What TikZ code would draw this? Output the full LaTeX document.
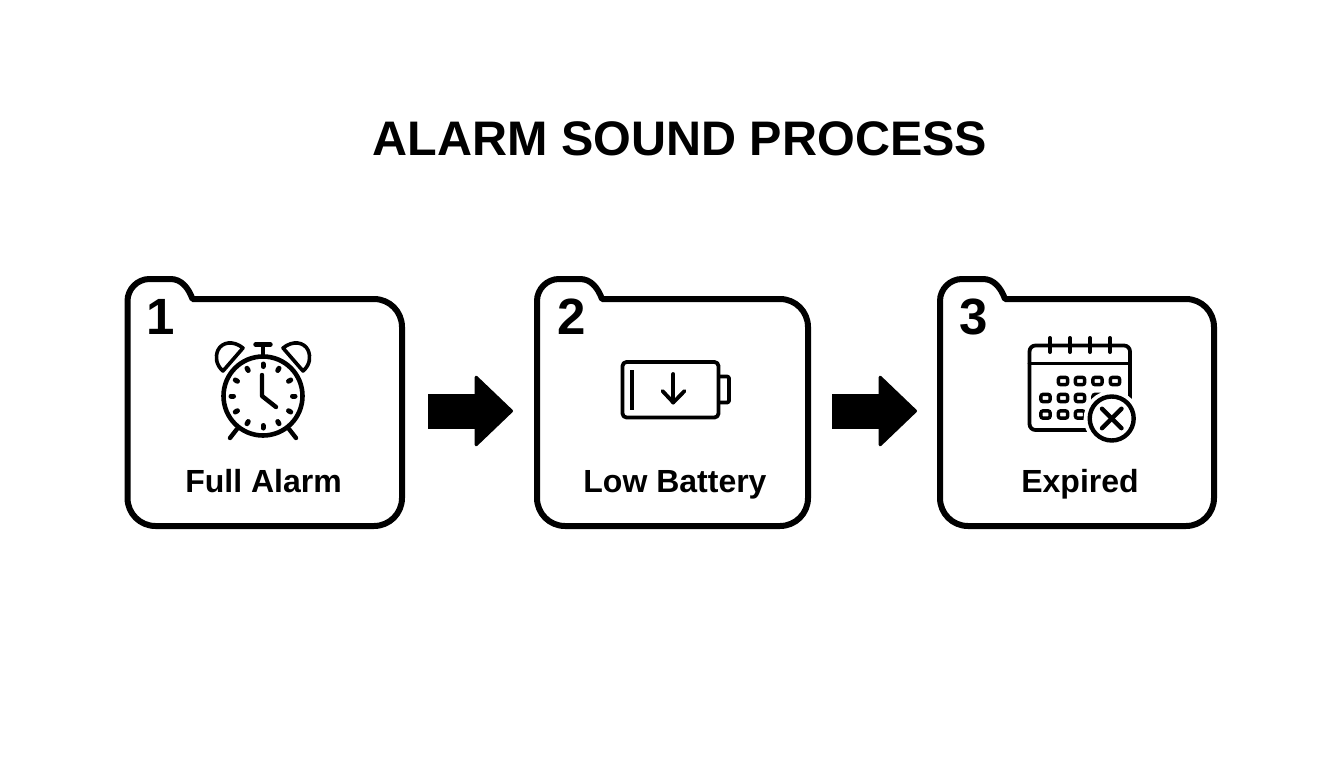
\documentclass[tikz,border=0pt]{standalone}
\usepackage{fontspec}
\setmainfont{Liberation Sans}
\usetikzlibrary{arrows.meta}
\newcommand{\cardoutline}[2]{%
  \draw[cardline] (#1,301) .. controls (#1,289) and ({#1+10},279) .. ({#1+22},279)
    -- ({#1+43},279) .. controls ({#1+54},279) and ({#1+61},288) .. ({#1+65},299)
    -- ({#2-28},299) .. controls ({#2-12.5},299) and (#2,311.5) .. (#2,327)
    -- (#2,498) .. controls (#2,513.5) and ({#2-12.5},526) .. ({#2-28},526)
    -- ({#1+28},526) .. controls ({#1+12.5},526) and (#1,513.5) .. (#1,498) -- cycle;}
\tikzset{
  x=1pt,y=-1pt,
  cardline/.style={line width=6pt,line join=round,draw=black},
  icon/.style={line width=4.4pt,line cap=round,line join=round,draw=black},
  thin icon/.style={line width=3.8pt,line cap=round,line join=round,draw=black},
  title text/.style={font=\bfseries\fontsize{48.5}{54}\selectfont,anchor=base,inner sep=0pt},
  label text/.style={font=\bfseries\fontsize{32}{36}\selectfont,anchor=base,inner sep=0pt},
  number text/.style={font=\bfseries\fontsize{51}{56}\selectfont,anchor=base,inner sep=0pt},
  flow arrow/.style={line width=35pt,draw=black,-{Triangle[round,line width=3pt,length=39pt,width=74pt]}},
}
\begin{document}
\begin{tikzpicture}
\useasboundingbox (0,0) rectangle (1344,768);
\fill[white] (0,0) rectangle (1344,768);
\node[title text] (title) at (680,155) {ALARM SOUND PROCESS};
% cards
\cardoutline{127.5}{402}
\cardoutline{537}{808}
\cardoutline{940}{1214}
\node[number text] (num1) at (161,334) {1};
\node[number text] (num2) at (572,334) {2};
\node[number text] (num3) at (973.5,334) {3};
\node[label text] (lab1) at (263.5,492) {Full Alarm};
\node[label text] (lab2) at (675,492) {Low Battery};
\node[label text] (lab3) at (1080,492) {Expired};
% arrows
\coordinate (a1s) at (428,411);
\coordinate (a1e) at (513,411);
\coordinate (a2s) at (832,411);
\coordinate (a2e) at (917,411);
\draw[flow arrow] (a1s) -- (a1e);
\draw[flow arrow] (a2s) -- (a2e);
% clock
\begin{scope}[shift={(263,396)}]
  \draw[line width=4.6pt] (0,0) circle[radius=39.5];
  \foreach \a in {0,30,...,330}
    \draw[line width=5pt,line cap=round] (\a:29.5) -- (\a:32);
  \draw[icon] (-1,-21) -- (-1,0) -- (13,11);
  \draw[icon] (0,-41) -- (0,-51);
  \draw[icon] (-7.5,-51.5) -- (7.5,-51.5);
  \draw[icon] (-26,33) -- (-33,42);
  \draw[icon] (26,33) -- (33,42);
  \draw[icon,line width=3.6pt] (-20,-48) .. controls (-30,-56) and (-41,-54) .. (-45,-46)
     .. controls (-48,-39) and (-47,-31) .. (-40,-25) -- cycle;
  \draw[icon,line width=3.6pt] (20,-48) .. controls (30,-56) and (41,-54) .. (45,-46)
     .. controls (48,-39) and (47,-31) .. (40,-25) -- cycle;
\end{scope}
% battery
\draw[thin icon,rounded corners=4pt] (622.5,362) rectangle (718.5,417.5);
\draw[thin icon,rounded corners=2pt] (720,376.5) -- (729,376.5) -- (729,402.5) -- (720,402.5);
\draw[line width=4.4pt] (631.7,370) -- (631.7,410);
\draw[thin icon] (673.3,374) -- (673.3,402.5);
\draw[thin icon] (662.5,391) -- (673.3,402.5) -- (684.5,391);
% calendar
\draw[thin icon,rounded corners=6pt] (1029.5,430) -- (1029.5,345.5) -- (1130,345.5) -- (1130,430) -- cycle;
\draw[thin icon] (1029.5,363.5) -- (1130,363.5);
\foreach \x in {1050,1070,1090,1110}
  \draw[thin icon,line width=4pt] (\x,338) -- (\x,352);
\foreach \x/\y in {1063/381,1080/381,1097.5/381,1115/381,
                   1045.5/398,1063/398,1080/398,1097.5/398,
                   1045.5/414.5,1063/414.5,1080/414.5}
  \draw[line width=3.4pt,rounded corners=2pt] (\x-4.6,\y-3.6) rectangle (\x+4.6,\y+3.6);
\fill[white] (1111.7,418.5) circle[radius=28];
\draw[line width=4.4pt] (1111.7,418.5) circle[radius=22];
\draw[icon] (1102,408.7) -- (1121.5,428.2);
\draw[icon] (1121.5,408.7) -- (1102,428.2);
\end{tikzpicture}
\end{document}
